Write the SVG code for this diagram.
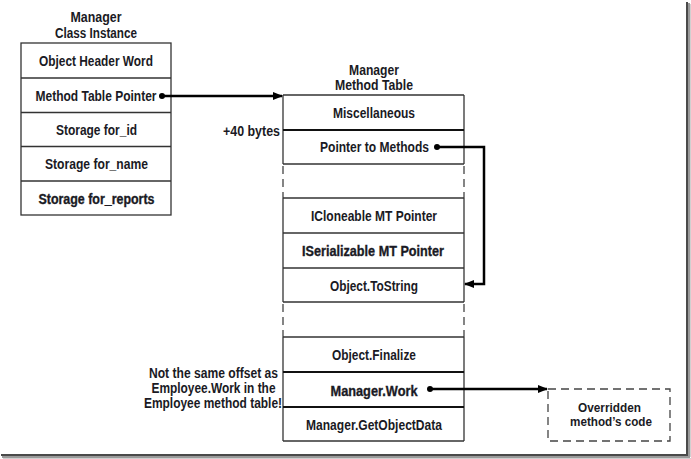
<svg xmlns="http://www.w3.org/2000/svg" width="691" height="459" viewBox="0 0 691 459">
<style>
text{font-family:"Liberation Sans",Arial,sans-serif;font-size:14.5px;font-weight:bold;fill:#1a1a24;text-anchor:middle}
.b{stroke:#1a1a24;stroke-width:0.35px}
.r{text-anchor:end}
.s{font-size:13px}
.box{fill:#fff;stroke:#333;stroke-width:1.3}
.ln{stroke:#333;stroke-width:1.3;fill:none}
.thk{stroke:#111;stroke-width:2;fill:none}
.dash{stroke:#444;stroke-width:1.3;fill:none;stroke-dasharray:8 5}
.conn{stroke:#000;stroke-width:2.5;fill:none}
</style>
<defs>
<marker id="ah" markerUnits="userSpaceOnUse" markerWidth="10" markerHeight="8" refX="9" refY="4" orient="auto">
<path d="M0,0 L10,4 L0,8 Z" fill="#000"/>
</marker>
</defs>
<rect width="691" height="459" fill="#fff"/>
<g id="frame-shadow">
<rect x="686" y="2" width="2" height="453" fill="#4a4a4a"/>
<rect x="688" y="3" width="2" height="453" fill="#9a9a9a"/>
<rect x="690" y="4" width="1" height="453" fill="#d0d0d0"/>
<rect x="1" y="454" width="687" height="2" fill="#4a4a4a"/>
<rect x="2" y="456" width="688" height="2" fill="#9a9a9a"/>
<rect x="3" y="458" width="688" height="1" fill="#d0d0d0"/>
</g>

<g id="instance">
<text x="96" y="21.5" textLength="51" lengthAdjust="spacingAndGlyphs">Manager</text>
<text x="96" y="37.5" textLength="82" lengthAdjust="spacingAndGlyphs">Class Instance</text>
<rect class="box" x="21" y="43" width="150" height="172"/>
<line class="ln" x1="21" y1="78" x2="171" y2="78"/>
<line class="ln" x1="21" y1="112.5" x2="171" y2="112.5"/>
<line class="ln" x1="21" y1="146.5" x2="171" y2="146.5"/>
<line class="ln" x1="21" y1="181" x2="171" y2="181"/>
<text x="96" y="65.5" textLength="114" lengthAdjust="spacingAndGlyphs">Object Header Word</text>
<text x="96" y="100.5" textLength="121" lengthAdjust="spacingAndGlyphs">Method Table Pointer</text>
<text x="96.5" y="135" textLength="81" lengthAdjust="spacingAndGlyphs">Storage for_id</text>
<text x="96.5" y="169" textLength="103" lengthAdjust="spacingAndGlyphs">Storage for_name</text>
<text class="b" x="96.5" y="203.5" textLength="116" lengthAdjust="spacingAndGlyphs">Storage for_reports</text>
</g>

<g id="method-table">
<text x="374" y="74.5" textLength="50" lengthAdjust="spacingAndGlyphs">Manager</text>
<text x="374" y="90" textLength="78" lengthAdjust="spacingAndGlyphs">Method Table</text>
<line class="ln" x1="283" y1="95" x2="464" y2="95"/>
<line class="ln" x1="283" y1="95" x2="283" y2="164"/>
<line class="ln" x1="464" y1="95" x2="464" y2="164"/>
<line class="thk" x1="283" y1="130" x2="464" y2="130"/>
<line class="ln" x1="283" y1="164" x2="464" y2="164"/>
<line class="dash" x1="283" y1="166" x2="283" y2="198"/>
<line class="dash" x1="464" y1="166" x2="464" y2="198"/>
<line class="ln" x1="283" y1="198" x2="464" y2="198"/>
<line class="ln" x1="283" y1="198" x2="283" y2="302"/>
<line class="ln" x1="464" y1="198" x2="464" y2="302"/>
<line class="ln" x1="283" y1="233" x2="464" y2="233"/>
<line class="ln" x1="283" y1="268" x2="464" y2="268"/>
<line class="ln" x1="283" y1="302" x2="464" y2="302"/>
<line class="dash" x1="283" y1="304" x2="283" y2="337"/>
<line class="dash" x1="464" y1="304" x2="464" y2="337"/>
<line class="ln" x1="283" y1="337" x2="464" y2="337"/>
<line class="ln" x1="283" y1="337" x2="283" y2="441"/>
<line class="ln" x1="464" y1="337" x2="464" y2="441"/>
<line class="thk" x1="283" y1="372" x2="464" y2="372"/>
<line class="thk" x1="283" y1="407" x2="464" y2="407"/>
<line class="ln" x1="283" y1="441" x2="464" y2="441"/>
<text x="374" y="118" textLength="82" lengthAdjust="spacingAndGlyphs">Miscellaneous</text>
<text x="374.5" y="152" textLength="109" lengthAdjust="spacingAndGlyphs">Pointer to Methods</text>
<text x="374" y="221" textLength="126" lengthAdjust="spacingAndGlyphs">ICloneable MT Pointer</text>
<text class="b" x="373" y="256" textLength="142" lengthAdjust="spacingAndGlyphs">ISerializable MT Pointer</text>
<text x="374" y="290.5" textLength="88" lengthAdjust="spacingAndGlyphs">Object.ToString</text>
<text x="374" y="360" textLength="84" lengthAdjust="spacingAndGlyphs">Object.Finalize</text>
<text class="b" x="374" y="395.5" textLength="87" lengthAdjust="spacingAndGlyphs">Manager.Work</text>
<text x="374" y="429.5" textLength="136" lengthAdjust="spacingAndGlyphs">Manager.GetObjectData</text>
</g>

<g id="labels">
<text class="r" x="280" y="135.5" textLength="57" lengthAdjust="spacingAndGlyphs">+40 bytes</text>
<text class="r" x="278" y="377.5" textLength="129" lengthAdjust="spacingAndGlyphs">Not the same offset as</text>
<text class="r" x="275.5" y="392.5" textLength="124" lengthAdjust="spacingAndGlyphs">Employee.Work in the</text>
<text class="r" x="282" y="407.5" textLength="138" lengthAdjust="spacingAndGlyphs">Employee method table!</text>
</g>

<g id="overridden">
<rect x="548" y="389" width="122" height="52" fill="#fff" stroke="#444" stroke-width="1.3" stroke-dasharray="8 5"/>
<text class="s" x="609.5" y="412" textLength="63" lengthAdjust="spacingAndGlyphs">Overridden</text>
<text class="s" x="611" y="426" textLength="82" lengthAdjust="spacingAndGlyphs">method’s code</text>
</g>

<g id="connectors">
<circle cx="162" cy="96" r="3" fill="#000"/>
<path class="conn" d="M162,96 H282" marker-end="url(#ah)"/>
<circle cx="437" cy="147" r="3" fill="#000"/>
<path class="conn" d="M437,147 H484 V284 H465" marker-end="url(#ah)"/>
<circle cx="430" cy="389" r="3" fill="#000"/>
<path class="conn" d="M430,389 H547" marker-end="url(#ah)"/>
</g>
</svg>
